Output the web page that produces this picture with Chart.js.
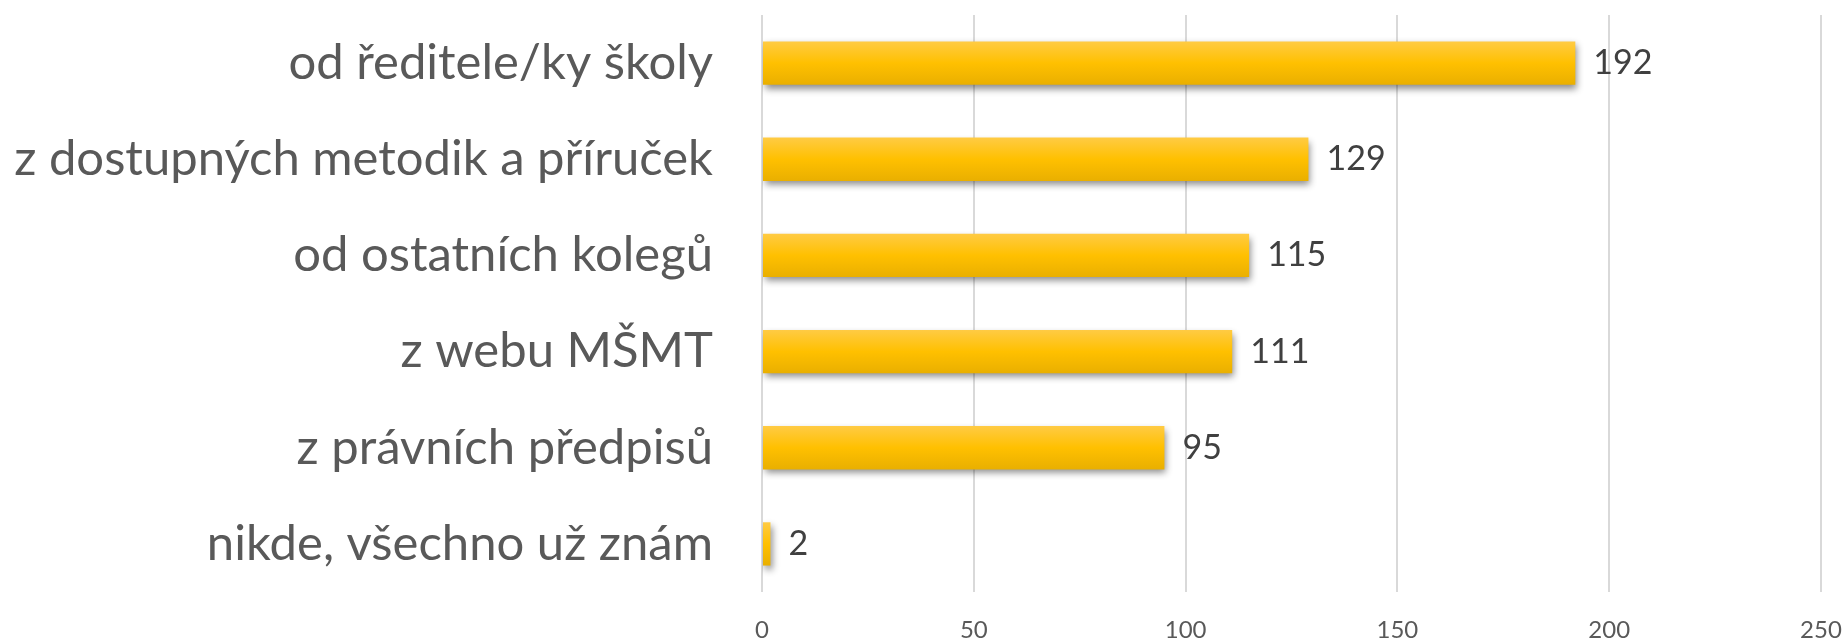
<!DOCTYPE html>
<html>
<head>
<meta charset="utf-8">
<script src="https://cdn.jsdelivr.net/npm/chart.js@4"></script>
<style>
  html, body { margin: 0; padding: 0; background: #fff; }
  #wrap { width: 1847px; height: 643px; }
</style>
</head>
<body>
<div id="wrap"><canvas id="myChart" width="1847" height="643"></canvas></div>
<script>
(() => {
  'use strict'

  const categories = [
    'od ředitele/ky školy',
    'z dostupných metodik a příruček',
    'od ostatních kolegů',
    'z webu MŠMT',
    'z právních předpisů',
    'nikde, všechno už znám'
  ]
  const counts = [192, 129, 115, 111, 95, 2]
  const xTicks = [0, 50, 100, 150, 200, 250]

  const FONT = 'Lato, "Open Sans", sans-serif'

  // bar fill: light top, darker bottom
  const barFill = (c) => {
    const chart = c.chart
    const y = chart.scales && chart.scales.y
    if (!chart.chartArea || !y) return '#FFC000'
    const mid = y.getPixelForTick(c.dataIndex)
    const g = chart.ctx.createLinearGradient(0, mid - 22, 0, mid + 22)
    g.addColorStop(0, '#FFCB45')
    g.addColorStop(0.5, '#FFC000')
    g.addColorStop(1, '#E9AF00')
    return g
  }

  const shadowPlugin = {
    id: 'barShadow',
    beforeDatasetsDraw (chart) {
      const ctx = chart.ctx
      ctx.save()
      ctx.shadowColor = 'rgba(0,0,0,0.45)'
      ctx.shadowBlur = 7
      ctx.shadowOffsetX = 2
      ctx.shadowOffsetY = 4
    },
    afterDatasetsDraw (chart) {
      chart.ctx.restore()
      // value labels
      const ctx = chart.ctx
      const meta = chart.getDatasetMeta(0)
      ctx.save()
      ctx.font = '34px ' + FONT
      ctx.fillStyle = '#404040'
      ctx.textBaseline = 'middle'
      ctx.textAlign = 'left'
      meta.data.forEach((bar, i) => {
        ctx.fillText(String(counts[i]), bar.x + 18, bar.y)
      })
      ctx.restore()
    }
  }

  const ctx = document.getElementById('myChart')
  // eslint-disable-next-line no-unused-vars
  const myChart = new Chart(ctx, {
    type: 'bar',
    data: {
      labels: categories,
      datasets: [{
        data: counts,
        backgroundColor: barFill,
        borderWidth: 0,
        categoryPercentage: 1,
        barPercentage: 0.45
      }]
    },
    plugins: [shadowPlugin],
    options: {
      indexAxis: 'y',
      responsive: false,
      animation: false,
      layout: { padding: { top: 15, right: 26, left: 0, bottom: 0 } },
      plugins: {
        legend: { display: false },
        tooltip: { enabled: false }
      },
      scales: {
        x: {
          min: 0,
          max: 250,
          afterBuildTicks: (s) => { s.ticks = xTicks.map(v => ({ value: v })) },
          afterFit: (s) => {
            s.height = 51
            s.paddingLeft = 0
            s.paddingRight = 0
          },
          grid: { color: '#D9D9D9', lineWidth: 2, drawTicks: false },
          border: { display: false },
          ticks: {
            padding: 24,
            color: '#595959',
            font: { family: FONT, size: 24 }
          }
        },
        y: {
          afterFit: (s) => {
            s.width = 762
            s.paddingTop = 0
            s.paddingBottom = 0
          },
          grid: { display: false, drawTicks: false },
          border: { display: false },
          ticks: {
            padding: 49,
            color: '#595959',
            font: { family: FONT, size: 49 }
          }
        }
      }
    }
  })
})()
</script>
</body>
</html>
